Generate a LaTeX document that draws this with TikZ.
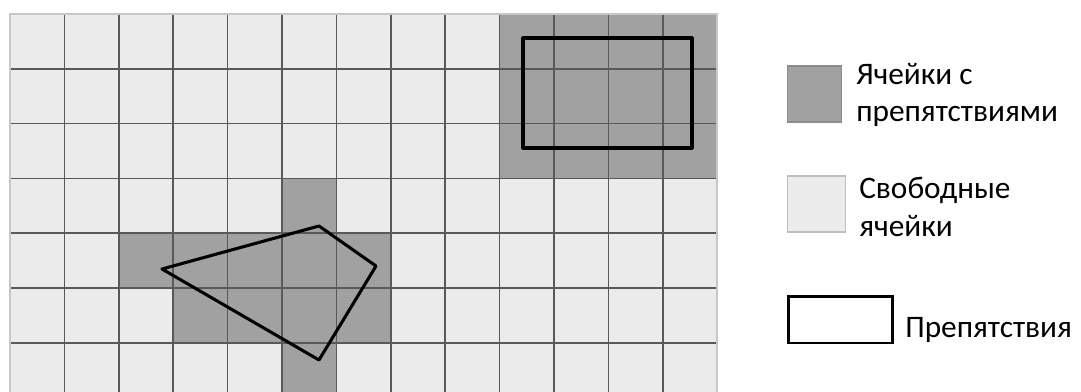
\documentclass[tikz,border=0pt]{standalone}
\usepackage{fontspec}
\setmainfont{Carlito}
\usetikzlibrary{positioning}

\tikzset{
  freecell/.style={fill=black!8},
  fullcell/.style={fill=black!37},
  gridline/.style={draw=black!65, line width=1.3pt},
  obstacle/.style={draw=black, line width=2.3pt, line join=round},
  legtext/.style={inner sep=0pt, align=left, font=\fontsize{23.5}{28}\selectfont}
}

\begin{document}
\begin{tikzpicture}[x=0.75pt, y=-0.75pt]
  \useasboundingbox (0,0) rectangle (1081,392);
  \clip (0,0) rectangle (1081,392);

  % free cells
  \fill[freecell] (10,14) rectangle (717,392);
  % cells with obstacles
  \foreach \c/\r in {9/0, 10/0, 11/0, 12/0, 9/1, 10/1, 11/1, 12/1, 9/2, 10/2, 11/2, 12/2,
                     5/3, 2/4, 3/4, 4/4, 5/4, 6/4, 3/5, 4/5, 5/5, 6/5, 5/6} {
    \fill[fullcell] ({10+\c*54.4},{14+\r*54.8}) rectangle ++(54.4,54.8);
  }
  % grid
  \foreach \i in {1,...,12} {
    \draw[gridline] ({10+\i*54.4},14) -- ({10+\i*54.4},392);
  }
  \foreach \j in {1,...,6} {
    \draw[gridline] (10,{14+\j*54.8}) -- (717,{14+\j*54.8});
  }
  \draw[black!22, line width=0.8pt] (10,392) -- (10,14) -- (717,14) -- (717,392);

  % obstacles
  \draw[obstacle] (523,38) rectangle (692,148);
  \draw[obstacle] (162,269) -- (319,226) -- (376,266) -- (319,360) -- cycle;

  % legend
  \node[draw=black!45, fill=black!37, line width=0.8pt, minimum width=41pt, minimum height=42pt, inner sep=0pt] (boxfull) at (814.5,94) {};
  \node[draw=black!25, fill=black!8, line width=0.8pt, minimum width=44pt, minimum height=42pt, inner sep=0pt] (boxfree) at (816.5,204) {};
  \node[draw=black, line width=2pt, minimum width=78pt, minimum height=35pt, inner sep=0pt] (boxedge) at (840.5,319.5) {};

  \node[legtext, anchor=west] (txtfull) at (856,95) {Ячейки с\\препятствиями};
  \node[legtext, anchor=west] (txtfree) at (859,207) {Свободные\\ячейки};
  \node[legtext, anchor=base west] (txtedge) at (905,337) {Препятствия};
\end{tikzpicture}
\end{document}
